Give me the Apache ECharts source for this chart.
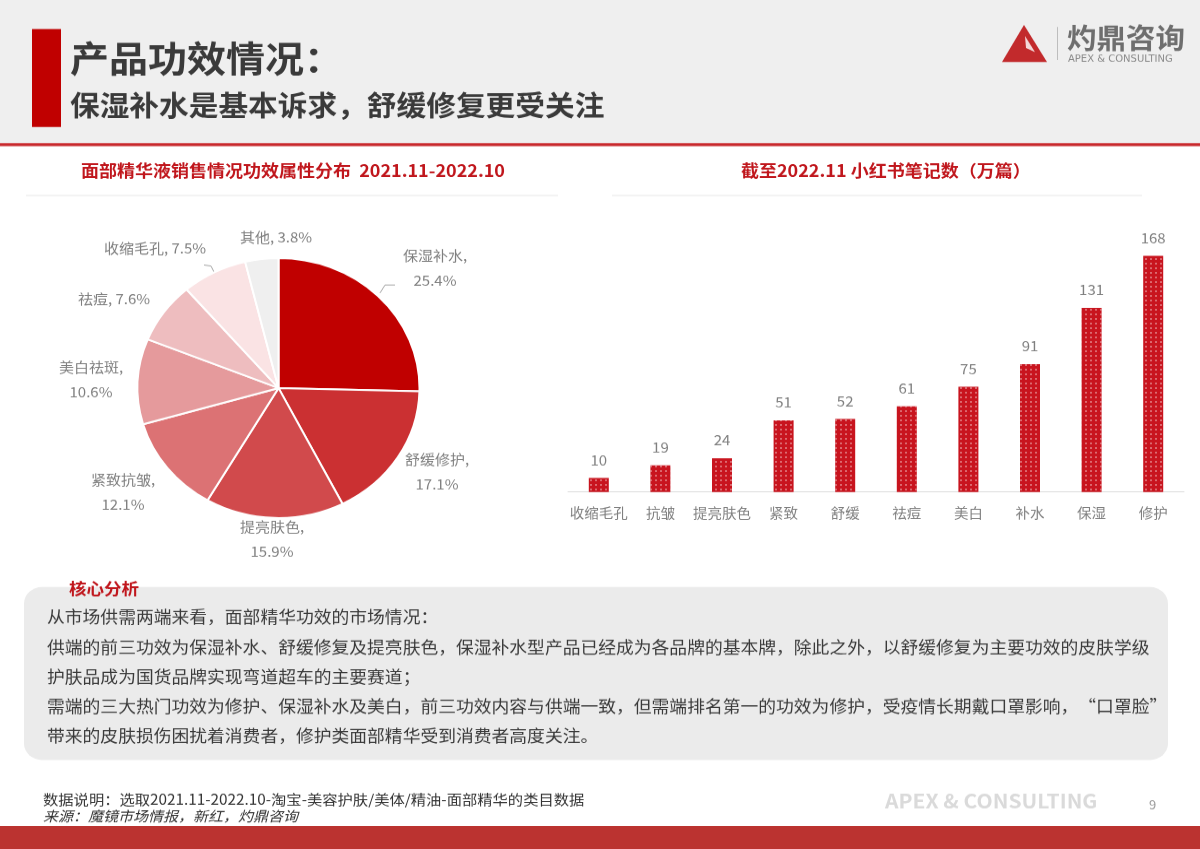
<!DOCTYPE html>
<html>
<head>
<meta charset="utf-8">
<title>产品功效情况</title>
<script src="https://cdn.jsdelivr.net/npm/echarts@6/dist/echarts.min.js"></script>
<style>
    html, body { margin: 0; padding: 0; background: #fff; width: 1200px; height: 849px; overflow: hidden; }
    /* the slide is stretched sideways in the reference, so squash the whole chart a little */
    #main { width: 1200px; height: 921px; transform: scaleY(0.9218); transform-origin: 0 0; filter: blur(0.4px); }
</style>
</head>
<body>
<div id="main"></div>
<script>
// Pie: efficacy share of sales
var pieNames = ['保湿补水', '舒缓修护', '提亮肤色', '紧致抗皱', '美白祛斑', '祛痘', '收缩毛孔', '其他'];
var pieValues = [25.4, 17.1, 15.9, 12.1, 10.6, 7.6, 7.5, 3.8];
var pieColors = ['#C00000', '#CB3032', '#D14A4C', '#DC7274', '#E59A9C', '#EEBDBF', '#FAE3E4', '#EFEFEF'];

// Bars: notes on xiaohongshu
var barNames = ['收缩毛孔', '抗皱', '提亮肤色', '紧致', '舒缓', '祛痘', '美白', '补水', '保湿', '修护'];
var barValues = [10, 19, 24, 51, 52, 61, 75, 91, 131, 168];

var bodyLines = [
    '从市场供需两端来看，面部精华功效的市场情况：',
    '供端的前三功效为保湿补水、舒缓修复及提亮肤色，保湿补水型产品已经成为各品牌的基本牌，除此之外，以舒缓修复为主要功效的皮肤学级',
    '护肤品成为国货品牌实现弯道超车的主要赛道；',
    '需端的三大热门功效为修护、保湿补水及美白，前三功效内容与供端一致，但需端排名第一的功效为修护，受疫情长期戴口罩影响，“口罩脸”',
    '带来的皮肤损伤困扰着消费者，修护类面部精华受到消费者高度关注。'
];

var FONT = '"Noto Sans CJK SC", "Noto Sans", sans-serif';
var SCALE_Y = 0.9218;

// page y -> chart y, because of the css squash
function Y(y) {
    return y / SCALE_Y;
}

// label centres around the pie, same order as pieNames
var pieLabelPos = [[435, 268], [437, 472], [272, 539], [123, 492], [91, 380], [114, 299], [155, 248], [276, 237]];
var oneLine = { '祛痘': 1, '收缩毛孔': 1, '其他': 1 };
var leaderLines = {
    '保湿补水': [[380, 293], [385, 285], [395, 285]],
    '收缩毛孔': [[214, 272], [211, 266], [204, 265]]
};

function text(x, y, str, size, color, weight, extra) {
    var style = { x: x, y: Y(y), text: str, fill: color, fontFamily: FONT, fontSize: size, fontWeight: weight || 'normal', textVerticalAlign: 'middle' };
    for (var k in extra) style[k] = extra[k];
    return { type: 'text', style: style };
}

function rect(x, y, w, h, fill, r) {
    return { type: 'rect', shape: { x: x, y: Y(y), width: w, height: Y(h), r: r || 0 }, style: { fill: fill } };
}

function poly(points, fill) {
    return {
        type: 'polygon',
        shape: { points: points.map(function (p) { return [p[0], Y(p[1])]; }) },
        style: { fill: fill }
    };
}

var slide = [
    // header band
    rect(0, 0, 1200, 143, '#EFEFEF'),
    rect(0, 143, 1200, 3, '#C8282C'),
    rect(32, 29, 29, 98, '#C00000'),
    text(70, 58, '产品功效情况：', 39, '#3A3A3A', 'bold'),
    text(70, 105, '保湿补水是基本诉求，舒缓修复更受关注', 29.7, '#3A3A3A', 'bold'),

    // logo
    poly([[1024, 25], [1047, 62], [1002, 62]], '#C22A2C'),
    poly([[1025, 36], [1035, 52], [1026, 48]], '#F4D9D9'),
    rect(1057, 27, 1, 33, '#BDBDBD'),
    text(1067, 38, '灼鼎咨询', 29.5, '#6E6E6E', 'bold'),
    text(1068, 59, 'APEX & CONSULTING', 10, '#8A8A8A', 'normal', { fontFamily: '"DejaVu Sans", sans-serif' }),

    // chart titles
    text(81, 171, '面部精华液销售情况功效属性分布  2021.11-2022.10', 18, '#C0161C', 'bold'),
    text(741, 171, '截至2022.11 小红书笔记数（万篇）', 18, '#C0161C', 'bold'),
    rect(26, 195, 532, 1, '#EDEDED'),
    rect(612, 195, 530, 1, '#EDEDED'),

    // analysis panel
    rect(24, 587, 1144, 173, '#EBEBEB', 18),
    text(69, 588, '核心分析', 17.5, '#C0161C', 'bold')
];

var bodyY = [617, 647, 677, 706, 736];
bodyLines.forEach(function (line, i) {
    slide.push(text(47, bodyY[i], line, 17.8, '#3A3A3A'));
});

slide = slide.concat([
    // footer
    text(43, 799, '数据说明：选取2021.11-2022.10-淘宝-美容护肤/美体/精油-面部精华的类目数据', 15.3, '#333333'),
    text(43, 816, '来源：魔镜市场情报，新红，灼鼎咨询', 15, '#333333', 'normal', { fontStyle: 'italic' }),
    text(885, 801, 'APEX & CONSULTING', 21, '#DADADA', 'bold'),
    text(1149, 805, '9', 13, '#9A9A9A'),
    rect(0, 826, 1200, 23, '#BB3330')
]);

var chart = echarts.init(document.getElementById('main'));

chart.setOption({
    animation: false,
    textStyle: { fontFamily: FONT },
    grid: { left: 568, width: 616, top: Y(239), height: Y(253) },
    xAxis: {
        type: 'category',
        data: barNames,
        axisTick: { show: false },
        axisLine: { lineStyle: { color: '#DDDDDD', width: 1 } },
        axisLabel: { color: '#7F7F7F', fontSize: 14.5, margin: 15, interval: 0 }
    },
    yAxis: { type: 'value', min: 0, max: 180, show: false, splitLine: { show: false } },
    series: [{
        type: 'bar',
        data: barValues,
        barWidth: 20,
        itemStyle: {
            color: '#C8141E',
            decal: {
                symbol: 'rect',
                symbolSize: 0.7,
                color: 'rgba(255,255,255,0.7)',
                dashArrayX: [[2, 2.5]],
                dashArrayY: [2, 2.5],
                rotation: 0
            }
        },
        label: { show: true, position: 'top', distance: 12, color: '#7F7F7F', fontSize: 15 }
    }, {
        type: 'pie',
        center: [278.5, Y(388)],
        radius: 141,
        startAngle: 90,
        clockwise: true,
        data: pieNames.map(function (name, i) {
            return {
                name: name,
                value: pieValues[i],
                itemStyle: { color: pieColors[i] },
                labelLine: { show: !!leaderLines[name] }
            };
        }),
        itemStyle: { borderColor: '#fff', borderWidth: 2 },
        label: {
            color: '#7F7F7F',
            fontSize: 15,
            lineHeight: 27,
            align: 'center',
            formatter: function (p) {
                return p.name + (oneLine[p.name] ? ', ' : ',\n') + pieValues[p.dataIndex].toFixed(1) + '%';
            }
        },
        labelLine: { lineStyle: { color: '#A6A6A6', width: 1 }, length: 10, length2: 10 },
        labelLayout: function (p) {
            var pos = pieLabelPos[p.dataIndex];
            var layout = { x: pos[0], y: Y(pos[1]), align: 'center', verticalAlign: 'middle' };
            var line = leaderLines[pieNames[p.dataIndex]];
            if (line) {
                layout.labelLinePoints = line.map(function (q) { return [q[0], Y(q[1])]; });
            }
            return layout;
        }
    }],
    graphic: { elements: slide }
});
</script>
</body>
</html>
